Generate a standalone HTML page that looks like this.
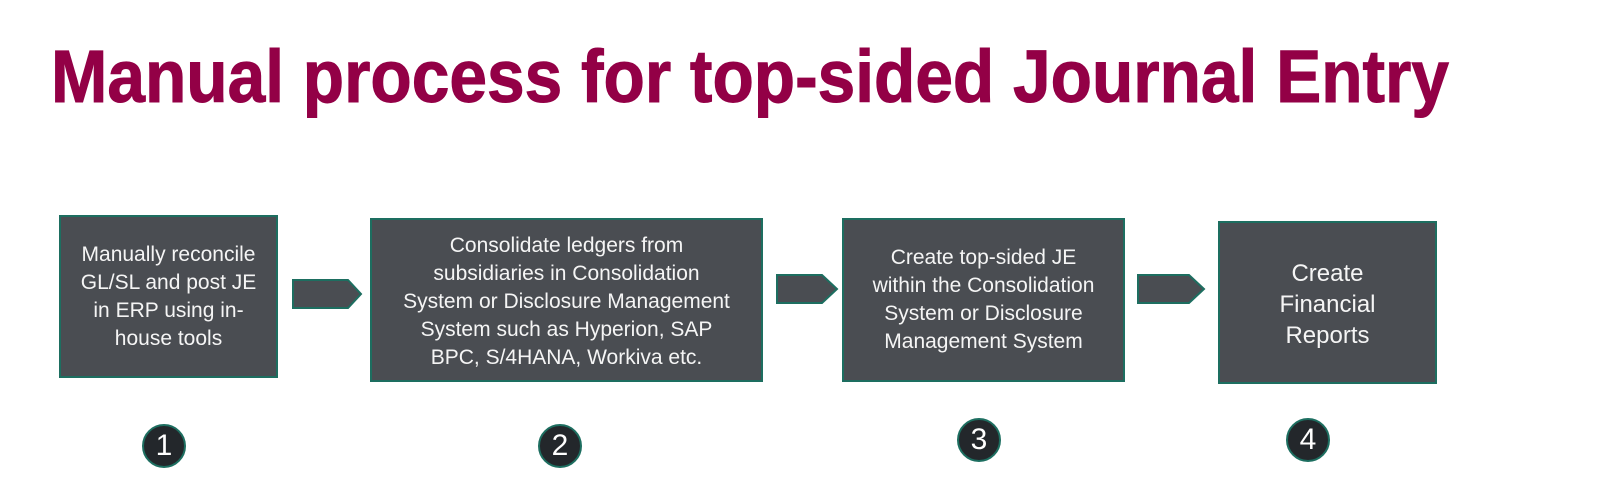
<!DOCTYPE html>
<html><head><meta charset="utf-8"><style>
html,body{margin:0;padding:0;background:#fff;}
body{width:1600px;height:488px;position:relative;overflow:hidden;font-family:"Liberation Sans",Arial,sans-serif;}
.box{position:absolute;background:#4a4d52;border:2px solid #1d6e60;box-sizing:border-box;display:flex;align-items:center;justify-content:center;text-align:center;color:#f5f5f5;font-size:21px;line-height:28px;}
.c{position:absolute;width:44px;height:44px;border-radius:50%;background:#23272b;border:2px solid #1d6e60;box-sizing:border-box;color:#fff;font-size:30px;line-height:40px;text-align:center;}
svg{position:absolute;left:0;top:0;}
</style></head><body>
<svg width="1600" height="488">
<text x="51" y="102" font-family="Liberation Sans, Arial, sans-serif" font-weight="bold" font-size="74" fill="#930046" stroke="#930046" stroke-width="1" textLength="1398" lengthAdjust="spacingAndGlyphs">Manual process for top-sided Journal Entry</text>
<g fill="#4a4d52" stroke="#1d6e60" stroke-width="2">
<polygon points="293,280 348,280 361,294 348,308 293,308"/>
<polygon points="777,275 822,275 837,289 822,303 777,303"/>
<polygon points="1138,275 1189,275 1204,289 1189,303 1138,303"/>
</g>
</svg>
<div class="box" style="left:59px;top:215px;width:219px;height:163px;">Manually reconcile<br>GL/SL and post JE<br>in ERP using in-<br>house tools</div>
<div class="box" style="left:370px;top:218px;width:393px;height:164px;padding-top:4px;">Consolidate ledgers from<br>subsidiaries in Consolidation<br>System or Disclosure Management<br>System such as Hyperion, SAP<br>BPC, S/4HANA, Workiva etc.</div>
<div class="box" style="left:842px;top:218px;width:283px;height:164px;">Create top-sided JE<br>within the Consolidation<br>System or Disclosure<br>Management System</div>
<div class="box" style="left:1218px;top:221px;width:219px;height:163px;font-size:24px;line-height:31px;padding-top:4px;">Create<br>Financial<br>Reports</div>
<div class="c" style="left:142px;top:424px;">1</div>
<div class="c" style="left:538px;top:424px;">2</div>
<div class="c" style="left:957px;top:418px;">3</div>
<div class="c" style="left:1286px;top:418px;">4</div>
</body></html>
